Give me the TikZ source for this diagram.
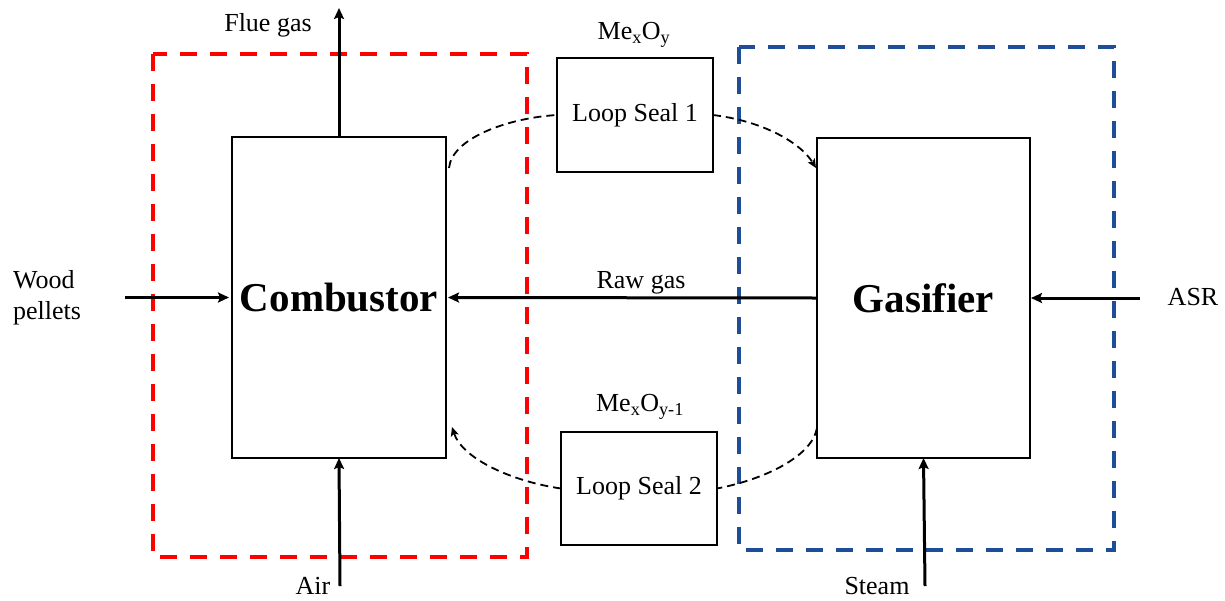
\documentclass[tikz,border=0pt]{standalone}
\usepackage{fontspec}
\setmainfont{Liberation Serif}
\usetikzlibrary{arrows.meta,calc}
\definecolor{myred}{RGB}{255,0,0}
\definecolor{myblue}{RGB}{31,78,152}
\begin{document}
\begin{tikzpicture}[x=1pt,y=-1pt,
  lbl/.style={font=\fontsize{26}{31}\selectfont, inner sep=0pt},
  unit/.style={draw, line width=1.9pt, inner sep=0pt, outer sep=0pt, font=\fontsize{41}{46}\selectfont\bfseries},
  seal/.style={draw, line width=1.3pt, inner sep=0pt, outer sep=0pt, minimum width=156pt, font=\fontsize{26}{31}\selectfont},
  flow/.style={line width=3pt, -{Stealth[length=11pt,width=10pt,inset=2pt]}},
  loop/.style={line width=1.8pt, dash pattern=on 8pt off 5pt},
  looparr/.style={loop, -{Stealth[length=9pt,width=8pt,inset=2pt]}},
  zone/.style={line width=4pt, dash pattern=on 17pt off 13pt}]
\useasboundingbox (0,0) rectangle (1225,600);

% zones
\draw[zone, myred] (153,54) rectangle (527,557);
\draw[zone, myblue] (739,47) rectangle (1114,550);

% units
\node[unit, minimum width=214pt, minimum height=321pt] (comb) at (339,297.5) {Combustor};
\node[unit, minimum width=213pt, minimum height=320pt] (gas) at (923.5,298) {Gasifier};
\node[seal, minimum height=114pt] (ls1) at (635,115) {Loop Seal 1};
\node[seal, minimum height=113pt] (ls2) at (639,488.5) {Loop Seal 2};

% coordinates for free ends
\coordinate (fg) at (339,8);
\coordinate (air) at (340,586);
\coordinate (steam) at (925,586);
\coordinate (wp) at (125,297.5);
\coordinate (asr) at (1140,298);

% flows
\draw[flow] (comb.north) -- (fg);
\draw[flow] (air) -- (comb.south);
\draw[flow] (steam) -- (gas.south);
\draw[flow, shorten >=3pt] (wp) -- (comb.west);
\draw[flow, shorten >=1pt] (asr) -- (gas.east);
\draw[flow, shorten >=2pt] (gas.west) -- (comb.east);

% loop seal circulation
\coordinate (c1) at ($(comb.north east)+(3,31)$);
\coordinate (g1) at ($(gas.north west)+(-1,30)$);
\coordinate (g2) at ($(gas.south west)+(0,-30)$);
\coordinate (c2) at ($(comb.south west)+(220,-31)$);
\draw[loop] (c1) .. controls (452,138) and (508,118) .. (ls1.west);
\draw[looparr] (ls1.east) .. controls (762,121) and (800,142) .. (g1);
\draw[loop] (g2) .. controls (812,456) and (766,479) .. (ls2.east);
\draw[looparr] (ls2.west) .. controls (510,481) and (462,458) .. (c2);

% labels
\node[lbl] (lfg) at (268,25) {Flue gas};
\node[lbl] (lair) at (313,586) {Air};
\node[lbl] (lsteam) at (877,586) {Steam};
\node[lbl, align=left, anchor=west] (lwp) at (13,298) {Wood\\pellets};
\node[lbl] (lasr) at (1193,297) {ASR};
\node[lbl] (lraw) at (641,283) {Raw gas};
\node[lbl] (lmo) at (634,35) {Me\textsubscript{x}O\textsubscript{y}};
\node[lbl] (lmo1) at (640,407) {Me\textsubscript{x}O\textsubscript{y-1}};
\end{tikzpicture}
\end{document}
